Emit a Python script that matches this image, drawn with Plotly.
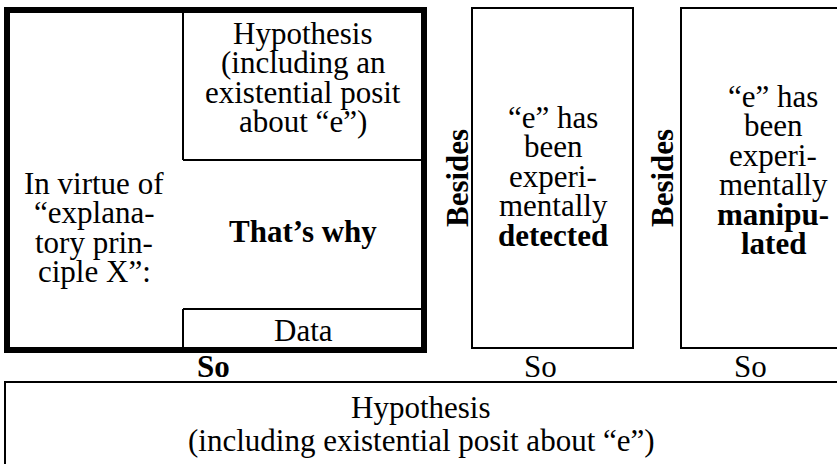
import plotly.graph_objects as go

# ---- text content ----
hyp_lines = ["Hypothesis", "(including an", "existential posit", "about “e”)"]
virtue_lines = ["In virtue of", "“explana-", "tory prin-", "ciple X”:"]
middle_text = "<b>That’s why</b>"
data_text = "Data"
detected_lines = ["“e” has", "been", "experi-", "mentally", "<b>detected</b>"]
manip_lines = ["“e” has", "been", "experi-", "mentally", "<b>manipu-</b>", "<b>lated</b>"]
besides_text = "<b>Besides</b>"
so_labels = ["<b>So</b>", "So", "So"]
bottom_lines = ["Hypothesis", "(including existential posit about “e”)"]

# ---- layout geometry (pixels) ----
W, H = 837, 464
FONT = "Liberation Serif, Times New Roman, serif"
FS = 31
LINE = 29.5

fig = go.Figure()
fig.add_trace(go.Scatter(x=[0, W], y=[0, H], mode="markers",
                         marker=dict(opacity=0), hoverinfo="skip", showlegend=False))

def rect(x0, y0, x1, y1, w):
    fig.add_shape(type="rect", xref="x", yref="y", x0=x0, y0=y0, x1=x1, y1=y1,
                  line=dict(color="black", width=w), fillcolor="rgba(0,0,0,0)")

def line(x0, y0, x1, y1, w):
    fig.add_shape(type="line", xref="x", yref="y", x0=x0, y0=y0, x1=x1, y1=y1,
                  line=dict(color="black", width=w))

def txt(x, y, s, angle=0, size=FS):
    fig.add_annotation(x=x, y=y, xref="x", yref="y", text=s, showarrow=False,
                       textangle=angle, font=dict(family=FONT, size=size, color="black"),
                       xanchor="center", yanchor="middle")

# thick box
rect(7, 10, 424, 350, 6)
# hypothesis sub-box
line(183, 10, 183, 160, 2)
line(183, 160, 424, 160, 2)
# data sub-box
line(183, 309, 183, 350, 2)
line(183, 309, 424, 309, 2)
# detected box
rect(472, 8, 633, 348, 2)
# manipulated box
rect(681, 8, 870, 348, 2)
# bottom box
rect(5, 382, 870, 480, 2)

for i, s in enumerate(hyp_lines):
    txt(303, 33 + i * LINE, s)
for i, s in enumerate(virtue_lines):
    txt(94, 183 + i * LINE, s)
txt(303, 231, middle_text)
txt(303, 330, data_text)
for i, s in enumerate(detected_lines):
    txt(553, 117 + i * LINE, s)
for i, s in enumerate(manip_lines):
    txt(773, 96 + i * LINE, s)
txt(457, 178, besides_text, angle=-90)
txt(662, 178, besides_text, angle=-90)
for x, s in zip([213, 540, 750], so_labels):
    txt(x, 366, s)
for i, s in enumerate(bottom_lines):
    txt(421, 407 + i * 33, s)

fig.update_layout(
    width=W, height=H, autosize=False,
    margin=dict(l=0, r=0, t=0, b=0),
    paper_bgcolor="white", plot_bgcolor="white",
    xaxis=dict(range=[0, W], visible=False, fixedrange=True),
    yaxis=dict(range=[H, 0], visible=False, fixedrange=True),
    showlegend=False,
)
fig.write_html("out.html", config={"displayModeBar": False},
               post_script="document.body.style.margin='0';")
